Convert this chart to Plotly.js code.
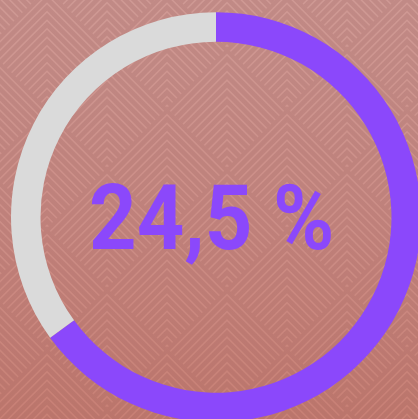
<!DOCTYPE html>
<html>
<head>
<meta charset="utf-8">
<script src="https://cdn.plot.ly/plotly-3.0.1.min.js"></script>
<style>
  html, body { margin: 0; padding: 0; width: 418px; height: 419px; overflow: hidden; }
  body { background: linear-gradient(to bottom, #cf9994 0%, #cc8d86 55%, #c88075 100%); position: relative; }
  #pattern { position: absolute; left: 0; top: 0; width: 418px; height: 419px; }
  #chart { position: absolute; left: 0; top: 0; width: 440px; height: 440px; }
  .annotation-text { transform-box: fill-box; transform-origin: center; transform: scaleX(0.923); }
</style>
</head>
<body>
<div id="pattern"></div>
<div id="chart"></div>
<script>
// Data
const labels = ["Filled", "Remaining"];
const values = [65, 35];
const sliceColors = ["#8b48fb", "#dadada"];
const centerLabel = "24,5 %";

// Background pattern: nested chevrons inside a diamond lattice
(function () {
  const T = 120, h = 60, step = 8.5;
  let defs = '', body = '';
  const centers = [[0,0],[120,0],[0,120],[120,120],[60,60]];
  centers.forEach((c, i) => {
    const [cx, cy] = c;
    defs += `<clipPath id="c${i}"><path d="M${cx} ${cy-h} L${cx+h} ${cy} L${cx} ${cy+h} L${cx-h} ${cy} Z"/></clipPath>`;
    let p = '';
    for (let ay = cy - h + 2.5; ay < cy + h + 2; ay += step) {
      p += `M${cx-140} ${ay+140} L${cx} ${ay} L${cx+140} ${ay+140} `;
    }
    body += `<path clip-path="url(#c${i})" d="${p}" fill="none" stroke="rgb(110,50,50)" stroke-opacity="0.15" stroke-width="4.5"/>`;
  });
  const svg = `<svg xmlns="http://www.w3.org/2000/svg" width="${T}" height="${T}"><defs>${defs}</defs>${body}</svg>`;
  const el = document.getElementById('pattern');
  el.style.backgroundImage = `url("data:image/svg+xml;utf8,${encodeURIComponent(svg)}")`;
  el.style.backgroundPosition = '47px 48px';
})();

const W = 440, H = 440;
const cx = 216, cy = 217.2, R = 205;

Plotly.newPlot('chart', [{
  type: 'pie',
  labels: labels,
  values: values,
  marker: { colors: sliceColors, line: { width: 0 } },
  hole: 0.856,
  sort: false,
  direction: 'clockwise',
  rotation: 0,
  textinfo: 'none',
  hoverinfo: 'none',
  showlegend: false,
  domain: { x: [(cx - R) / W, (cx + R) / W], y: [1 - (cy + R) / H, 1 - (cy - R) / H] }
}], {
  width: W, height: H,
  margin: { l: 0, r: 0, t: 0, b: 0 },
  paper_bgcolor: 'rgba(0,0,0,0)',
  plot_bgcolor: 'rgba(0,0,0,0)',
  showlegend: false,
  annotations: [{
    text: centerLabel,
    x: 211 / W, y: 1 - 218.5 / H,
    xref: 'paper', yref: 'paper',
    xanchor: 'center', yanchor: 'middle',
    showarrow: false,
    font: { family: 'Roboto, sans-serif', size: 90, weight: 700, color: '#8b48fb' }
  }]
}, { displayModeBar: false, staticPlot: true });
</script>
</body>
</html>
